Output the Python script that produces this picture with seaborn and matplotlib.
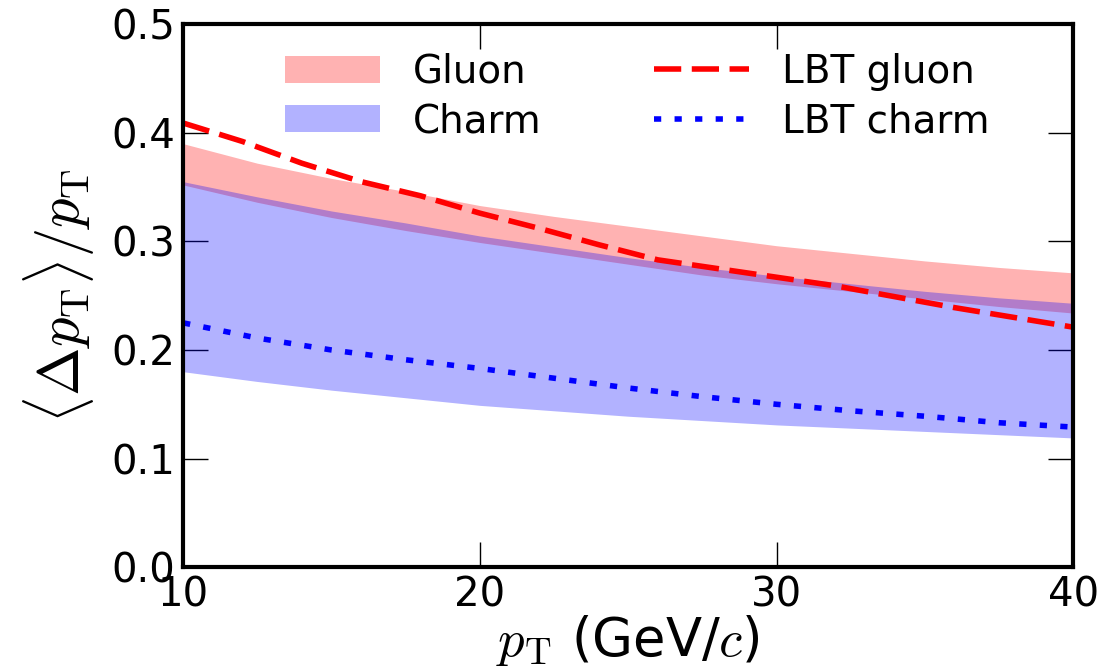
import numpy as np
import pandas as pd
import matplotlib
matplotlib.use("Agg")
import matplotlib.pyplot as plt
import seaborn as sns

# ---- data ----
pt_band = [10, 12.5, 15, 17.5, 20, 22.5, 25, 27.5, 30, 32.5, 35, 37.5, 40]
gluon_hi = [0.390, 0.372, 0.358, 0.346, 0.333, 0.323, 0.314, 0.305, 0.296, 0.289, 0.282, 0.276, 0.271]
gluon_lo = [0.352, 0.336, 0.322, 0.310, 0.299, 0.289, 0.279, 0.269, 0.261, 0.254, 0.247, 0.240, 0.234]
charm_hi = [0.355, 0.341, 0.328, 0.317, 0.305, 0.295, 0.285, 0.276, 0.268, 0.261, 0.254, 0.248, 0.243]
charm_lo = [0.180, 0.171, 0.163, 0.156, 0.149, 0.144, 0.139, 0.135, 0.131, 0.128, 0.125, 0.122, 0.119]

pt_lbt_g = [10, 12, 14, 16, 18, 20, 22, 24, 26, 28, 30, 32, 34, 36, 38, 40]
lbt_gluon = [0.409, 0.392, 0.372, 0.355, 0.342, 0.326, 0.312, 0.297, 0.283, 0.275, 0.267, 0.259, 0.249, 0.239, 0.230, 0.221]

pt_lbt_c = [10, 12.5, 15, 17.5, 20, 22.5, 25, 27.5, 30, 32.5, 35, 37.5, 40]
lbt_charm = [0.225, 0.211, 0.200, 0.191, 0.183, 0.174, 0.165, 0.157, 0.150, 0.144, 0.139, 0.133, 0.129]

x_ticks = [10, 20, 30, 40]
y_ticks = [0.0, 0.1, 0.2, 0.3, 0.4, 0.5]

sns.set_style("ticks")
plt.rcParams['font.family'] = ['DejaVu Sans']
plt.rcParams['mathtext.fontset'] = 'cm'
for k in ['text.color', 'axes.labelcolor', 'xtick.color', 'ytick.color', 'axes.edgecolor']:
    plt.rcParams[k] = 'black'

fig = plt.figure(figsize=(11.03, 6.72), dpi=100)
ax = fig.add_axes([0.166, 0.156, 0.807, 0.808])

ax.fill_between(pt_band, gluon_lo, gluon_hi, color='red', alpha=0.3, linewidth=0, label='Gluon')
ax.fill_between(pt_band, charm_lo, charm_hi, color='blue', alpha=0.3, linewidth=0, label='Charm')

df_g = pd.DataFrame({'pt': pt_lbt_g, 'v': lbt_gluon})
df_c = pd.DataFrame({'pt': pt_lbt_c, 'v': lbt_charm})
sns.lineplot(data=df_g, x='pt', y='v', ax=ax, color='red', linewidth=4,
             dashes=False, label='LBT gluon')
sns.lineplot(data=df_c, x='pt', y='v', ax=ax, color='blue', linewidth=4,
             dashes=False, label='LBT charm')
ax.lines[0].set_dashes([4.9, 1.9])
ax.lines[1].set_dashes([1.3, 2.4])

ax.set_xlim(10, 40)
ax.set_ylim(0, 0.5)
ax.set_xticks(x_ticks)
ax.set_yticks(y_ticks)
ax.set_xticklabels([str(t) for t in x_ticks])
ax.set_yticklabels([f"{t:.1f}" for t in y_ticks])
ax.tick_params(direction='in', length=18, width=1, labelsize=29, pad=6,
               top=True, right=True)
for s in ax.spines.values():
    s.set_linewidth(3)
    s.set_visible(True)

ax.set_xlabel(r'$p_{\rm T}$ (GeV/$c$)', fontsize=38, labelpad=-2)
ax.set_ylabel(r'$\langle\Delta p_{\rm T}\rangle/p_{\rm T}$', fontsize=42, labelpad=10)

ax.legend(loc='upper left', bbox_to_anchor=(0.097, 0.976), borderaxespad=0,
          ncol=2, frameon=False, fontsize=28, handlelength=2.44,
          handletextpad=0.85, columnspacing=2.9, labelspacing=0.3)

fig.savefig('out.png', dpi=100)
